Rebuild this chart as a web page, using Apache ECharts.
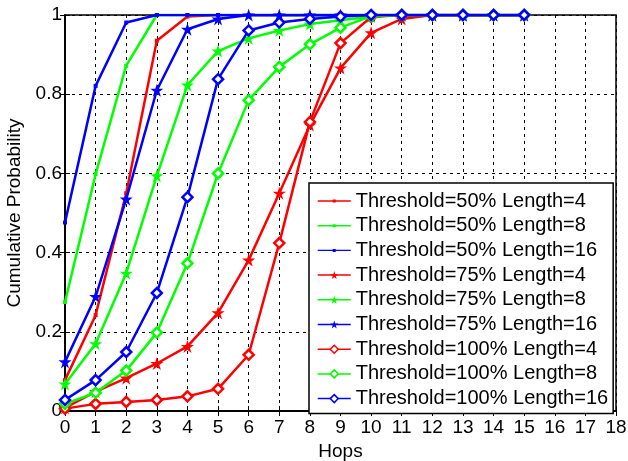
<!DOCTYPE html>
<html><head><meta charset="utf-8">
<script src="https://cdn.jsdelivr.net/npm/echarts@6/dist/echarts.min.js"></script>
<style>html,body{margin:0;padding:0;background:#fff}#c{width:628px;height:461px}</style>
</head><body><div id="c"></div>
<script>
var hops = [0,1,2,3,4,5,6,7,8,9,10,11,12,13,14,15];
var xTicks = [0,1,2,3,4,5,6,7,8,9,10,11,12,13,14,15,16,17,18];
var yTicks = [0,0.2,0.4,0.6,0.8,1];
var names = ['Threshold=50% Length=4','Threshold=50% Length=8','Threshold=50% Length=16',
  'Threshold=75% Length=4','Threshold=75% Length=8','Threshold=75% Length=16',
  'Threshold=100% Length=4','Threshold=100% Length=8','Threshold=100% Length=16'];
var t50_4  = [0.078,0.242,0.55,0.935,0.996,1,1,1,1,1,1,1,1,1,1,1];
var t50_8  = [0.275,0.598,0.872,1,1,1,1,1,1,1,1,1,1,1,1,1];
var t50_16 = [0.476,0.821,0.981,1,1,1,1,1,1,1,1,1,1,1,1,1];
var t75_4  = [0.008,0.049,0.083,0.12,0.163,0.248,0.381,0.55,0.722,0.866,0.955,0.99,1,1,1,1];
var t75_8  = [0.068,0.17,0.348,0.594,0.823,0.909,0.941,0.961,0.977,0.987,0.996,1,1,1,1,1];
var t75_16 = [0.124,0.289,0.535,0.81,0.964,0.99,1,1,1,1,1,1,1,1,1,1];
var t100_4 = [0.006,0.018,0.023,0.028,0.037,0.056,0.142,0.424,0.73,0.929,0.995,1,1,1,1,1];
var t100_8 = [0.018,0.046,0.102,0.198,0.373,0.6,0.785,0.869,0.926,0.968,0.997,1,1,1,1,1];
var t100_16= [0.028,0.078,0.149,0.298,0.54,0.838,0.961,0.981,0.99,0.996,1,1,1,1,1,1];

var values = [t50_4,t50_8,t50_16,t75_4,t75_8,t75_16,t100_4,t100_8,t100_16];
var colors = ['#ff0000','#00ff00','#0000ff'];
var star = 'path://M50,0 L61.8,36.2 L100,36.2 L69.1,58.6 L80.9,95.1 L50,72.4 L19.1,95.1 L30.9,58.6 L0,36.2 L38.2,36.2 Z';
// legend icon for the small-dot series: thin line plus tiny square, padded to a 33x10 box
var smallIcon = 'path://M0,0L0,0M330,100L330,100M0,43L330,43L330,57L0,57Z M150,35L180,35L180,65L150,65Z';

var series = values.map(function(v,i){
  var group = Math.floor(i/3);
  var col = colors[i%3];
  var sym, size, fill, bw;
  if (group===0){ sym='rect'; size=4; fill=col; bw=0; }
  else if (group===1){ sym=star; size=13; fill=col; bw=0; }
  else { sym='diamond'; size=10; fill='#fff'; bw=2.5; }
  return {
    name: names[i], type:'line',
    data: hops.map(function(h,k){return [h, v[k]];}),
    symbol: sym, symbolSize: size, showSymbol:true,
    lineStyle:{color:col,width:2.5},
    itemStyle:{color:fill,borderColor:col,borderWidth:bw},
    z: 2+i, animation:false
  };
});

var legendData = names.map(function(n,i){
  var group = Math.floor(i/3);
  if (group===0) return {name:n, icon:smallIcon, itemStyle:{color:colors[i%3],borderWidth:0}};
  if (group===2) return {name:n, itemStyle:{borderWidth:1.5}};
  return {name:n};
});

var chart = echarts.init(document.getElementById('c'));
var axisFont = {fontFamily:'Liberation Sans, Arial', fontSize:19, color:'#000'};
chart.setOption({
  animation:false,
  grid:{left:65,right:12,top:15,bottom:50,show:true,borderColor:'#000',borderWidth:1.5,
        containLabel:false, outerBoundsMode:'none'},
  xAxis:[{
    type:'value', min:0, max:18, interval:1,
    axisLine:{show:true,onZero:false,lineStyle:{color:'#000',width:1.5}},
    axisTick:{inside:true,length:5,lineStyle:{color:'#000'}},
    axisLabel:Object.assign({margin:7,formatter:function(v){return xTicks.indexOf(v)>=0?String(v):'';}},axisFont),
    splitLine:{show:true,lineStyle:{color:'#000',type:[3,4],width:1}},
    name:'Hops', nameLocation:'middle', nameGap:27,
    nameTextStyle:axisFont
  },{
    type:'value', min:0, max:18, interval:1, position:'top',
    axisLine:{show:true,lineStyle:{color:'#000',width:1.5}},
    axisTick:{inside:true,length:5,lineStyle:{color:'#000'}},
    axisLabel:{show:false}, splitLine:{show:false}
  }],
  yAxis:[{
    type:'value', min:0, max:1, interval:0.2,
    axisLine:{show:true,onZero:false,lineStyle:{color:'#000',width:1.5}},
    axisTick:{inside:true,length:5,lineStyle:{color:'#000'}},
    axisLabel:Object.assign({margin:3,formatter:function(v){
      var r=Math.round(v*10)/10; return yTicks.indexOf(r)>=0?String(r):'';}},axisFont),
    splitLine:{show:true,lineStyle:{color:'#000',type:[3,4],width:1}},
    name:'Cumulative Probability', nameLocation:'middle', nameGap:40,
    nameTextStyle:axisFont
  },{
    type:'value', min:0, max:1, interval:0.2, position:'right',
    axisLine:{show:true,lineStyle:{color:'#000',width:1.5}},
    axisTick:{inside:true,length:5,lineStyle:{color:'#000'}},
    axisLabel:{show:false}, splitLine:{show:false}
  }],
  legend:{
    orient:'vertical', left:309, top:183,
    backgroundColor:'#fff', borderColor:'#000', borderWidth:1.5,
    padding:[8,5,5,8], itemGap:4.7, itemWidth:33, itemHeight:10,
    textStyle:{fontFamily:'Liberation Sans, Arial',fontSize:20,color:'#000',lineHeight:20},
    lineStyle:{width:1.5},
    data:legendData
  },
  series: series
});
</script></body></html>
